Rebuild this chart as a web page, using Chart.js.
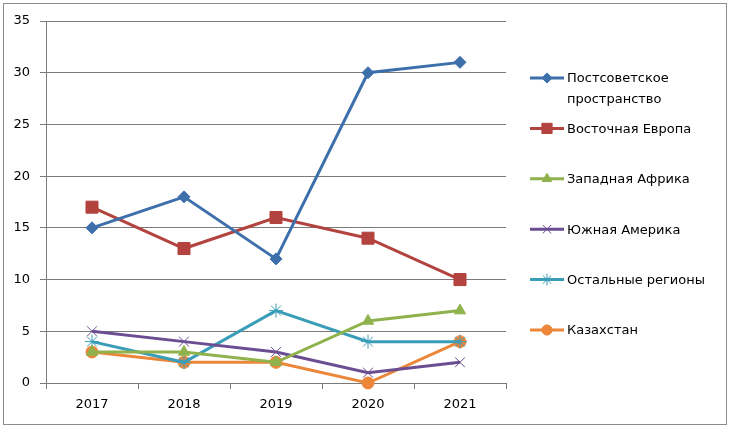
<!DOCTYPE html>
<html>
<head>
<meta charset="utf-8">
<script src="https://cdn.jsdelivr.net/npm/chart.js@4/dist/chart.umd.min.js"></script>
<style>
body{margin:0;background:#fff}
#wrap{position:relative;width:730px;height:428px}
#frame{position:absolute;left:3px;top:3px;width:722px;height:420px;border:1px solid #8c8c8c;pointer-events:none}
</style>
</head>
<body>
<div id="wrap"><canvas id="myChart" width="730" height="428"></canvas><div id="frame"></div></div>
<script>
var anni = ['2017', '2018', '2019', '2020', '2021']
var nomi = ['Постсоветское пространство', 'Восточная Европа', 'Западная Африка', 'Южная Америка', 'Остальные регионы', 'Казахстан']
var postsovetskoe = [15, 18, 12, 30, 31]
var vostochnaya = [17, 13, 16, 14, 10]
var zapadnaya = [3, 3, 2, 6, 7]
var yuzhnaya = [5, 4, 3, 1, 2]
var ostalnye = [4, 2, 7, 4, 4]
var kazakhstan = [3, 2, 2, 0, 4]
var yTicks = [0, 5, 10, 15, 20, 25, 30, 35]

var colori = ['#3D6FAB', '#B3433F', '#8FB24C', '#6B4D92', '#3A9DB8', '#EC8639']
var stili = ['rectRot', 'rect', 'triangle', 'crossRot', 'star', 'circle']
var raggi = [6, 8.5, 6.5, 7, 7, 6]
var valori = [postsovetskoe, vostochnaya, zapadnaya, yuzhnaya, ostalnye, kazakhstan]

const font = '"DejaVu Sans", Verdana, sans-serif'

const datasets = valori.map((v, i) => ({
  label: nomi[i],
  data: v,
  borderColor: colori[i],
  backgroundColor: colori[i],
  borderWidth: 3,
  pointStyle: stili[i],
  pointRadius: raggi[i],
  pointBorderWidth: 1,
  pointBackgroundColor: colori[i],
  pointBorderColor: colori[i],
  tension: 0,
  clip: false
}))

// legenda a destra, con testo che va a capo
const legendaDestra = {
  id: 'legendaDestra',
  afterDraw(chart) {
    const ctx = chart.ctx
    ctx.save()
    ctx.font = '13px ' + font
    ctx.textBaseline = 'middle'
    chart.data.datasets.forEach((ds, i) => {
      let y = 78 + i * 50.4
      ctx.strokeStyle = ds.borderColor
      ctx.lineWidth = 3
      ctx.beginPath()
      ctx.moveTo(530, y)
      ctx.lineTo(564, y)
      ctx.stroke()
      ctx.fillStyle = ds.borderColor
      ctx.strokeStyle = ds.borderColor
      ctx.lineWidth = ds.pointBorderWidth
      Chart.helpers.drawPoint(ctx, { pointStyle: ds.pointStyle, radius: ds.pointRadius * 0.85, rotation: 0, borderWidth: ds.pointBorderWidth }, 547, y)
      // a capo
      let parole = ds.label.split(' ')
      let righe = []
      let riga = ''
      parole.forEach(p => {
        let prova = riga ? riga + ' ' + p : p
        if (ctx.measureText(prova).width > 152 && riga) {
          righe.push(riga)
          riga = p
        } else riga = prova
      })
      righe.push(riga)
      ctx.fillStyle = '#000'
      righe.forEach((r, k) => ctx.fillText(r, 567, y + 1 + k * 21))
    })
    ctx.restore()
  }
}

const ctx = document.getElementById('myChart')

new Chart(ctx, {
  type: 'line',
  data: { labels: anni, datasets: datasets },
  options: {
    responsive: false,
    animation: false,
    layout: { padding: { top: 21, right: 224, left: 0, bottom: 0 } },
    plugins: {
      legend: { display: false },
      tooltip: { enabled: false }
    },
    scales: {
      x: {
        offset: true,
        grid: { offset: true, drawOnChartArea: false, tickLength: 6, color: '#7a7a7a' },
        border: { color: '#7a7a7a' },
        ticks: { color: '#000', font: { size: 13, family: font }, padding: 8, maxRotation: 0 },
        afterFit(s) { s.height = 45 }
      },
      y: {
        min: 0,
        max: 35,
        afterBuildTicks(s) { s.ticks = yTicks.map(v => ({ value: v })) },
        grid: { color: '#7a7a7a', tickLength: 6 },
        border: { color: '#7a7a7a' },
        ticks: { color: '#000', font: { size: 13, family: font }, padding: 10 },
        afterFit(s) { s.width = 46 }
      }
    }
  },
  plugins: [legendaDestra]
})
</script>
</body>
</html>
